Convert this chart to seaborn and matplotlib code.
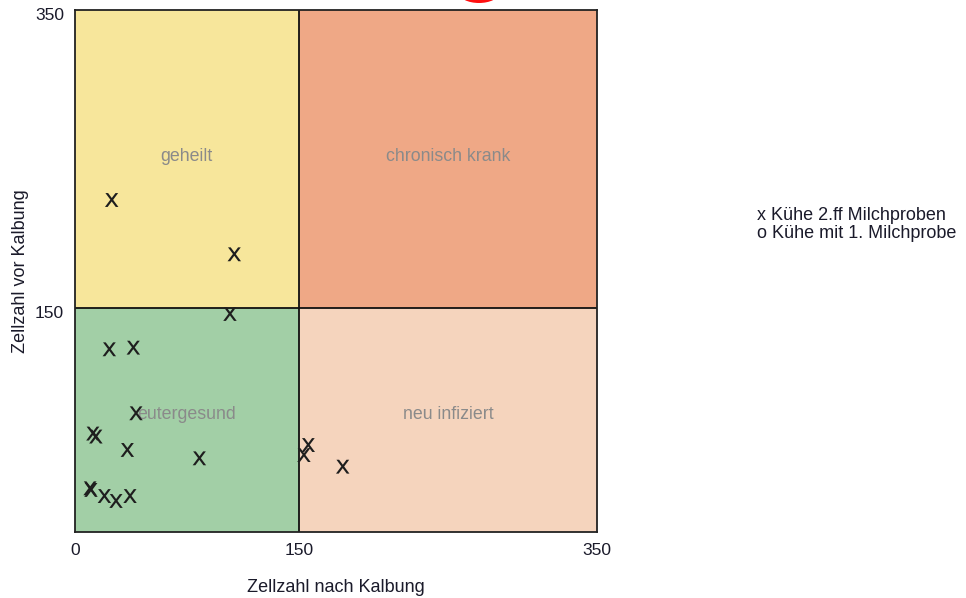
import matplotlib
matplotlib.use("Agg")
import matplotlib.pyplot as plt
import matplotlib.patches as mpatches
import matplotlib.transforms as mtransforms
import seaborn as sns
import pandas as pd

# data: cell counts after calving (x) and before calving (y)
zellzahl_nach = [103.9, 23.0, 39.1, 40.9, 12.0, 14.0, 35.1, 83.4, 10.1, 10.7, 19.7, 27.5, 36.9,
                 24.6, 106.8, 156.4, 153.5, 179.5]
zellzahl_vor = [146.2, 122.5, 123.6, 79.6, 66.0, 64.0, 55.0, 49.4, 29.3, 28.2, 24.1, 20.8, 24.1,
                222.6, 186.2, 58.3, 51.6, 43.8]
x_tick_values = [0, 150, 350]
y_tick_values = [150, 350]
quadrant_names = ["geheilt", "chronisch krank", "eutergesund", "neu infiziert"]
quadrant_colors = ["#F7E69B", "#EFA886", "#A2CFA6", "#F5D4BD"]
legend_lines = ["x Kühe 2.ff Milchproben", "o Kühe mit 1. Milchprobe"]

df = pd.DataFrame({"nach": zellzahl_nach, "vor": zellzahl_vor})

sns.set_theme(style="white")
plt.rcParams["font.family"] = ["Liberation Sans", "DejaVu Sans"]

fig = plt.figure(figsize=(9.66, 5.98), dpi=100)
ax = fig.add_axes([75 / 966, (598 - 532) / 598, 522 / 966, 522 / 598])

lim = 350
split = 150
# quadrants
ax.add_patch(mpatches.Rectangle((0, split), split, lim - split, facecolor=quadrant_colors[0], edgecolor="none", zorder=0))
ax.add_patch(mpatches.Rectangle((split, split), lim - split, lim - split, facecolor=quadrant_colors[1], edgecolor="none", zorder=0))
ax.add_patch(mpatches.Rectangle((0, 0), split, split, facecolor=quadrant_colors[2], edgecolor="none", zorder=0))
ax.add_patch(mpatches.Rectangle((split, 0), lim - split, split, facecolor=quadrant_colors[3], edgecolor="none", zorder=0))
ax.axvline(split, color="#111111", lw=1.3, zorder=1)
ax.axhline(split, color="#111111", lw=1.3, zorder=1)

label_pos = [(75, 252), (250, 252), (75, 79), (250, 79)]
for name, (px, py) in zip(quadrant_names, label_pos):
    ax.text(px, py, name, ha="center", va="center", color="#8a8a8a", fontsize=12.8, zorder=2)

sns.scatterplot(data=df, x="nach", y="vor", marker=r"$\mathsf{x}$", s=100, color="#1e1e1e",
                edgecolor="none", linewidth=0, ax=ax, zorder=3, legend=False)

ax.set_xlim(0, lim)
ax.set_ylim(0, lim)
ax.set_xticks(x_tick_values)
ax.set_yticks(y_tick_values)
ax.set_xticklabels([str(v) for v in x_tick_values], fontsize=12.5, color="#1a1a2a")
ax.set_yticklabels([str(v) for v in y_tick_values], fontsize=12.5, color="#1a1a2a")
ax.tick_params(axis="both", length=0, pad=8)
# nudge y tick labels slightly down like the reference
offset = mtransforms.ScaledTranslation(0, -4 / 100, fig.dpi_scale_trans)
for lab in ax.get_yticklabels():
    lab.set_transform(lab.get_transform() + offset)

ax.set_xlabel("Zellzahl nach Kalbung", fontsize=13, color="#1a1a2a")
ax.set_ylabel("Zellzahl vor Kalbung", fontsize=13, color="#1a1a2a")
ax.xaxis.set_label_coords(0.5, -(587 - 532) / 522)
ax.yaxis.set_label_coords(-(75 - 21) / 522, 0.5)
ax.xaxis.label.set_va("center")
ax.yaxis.label.set_va("center")
for sp in ax.spines.values():
    sp.set_visible(True)
    sp.set_color("#222222")
    sp.set_linewidth(1.3)

fig.text(757 / 966, 1 - 215 / 598, legend_lines[0], fontsize=13, ha="left", va="center", color="#1a1a2a")
fig.text(757 / 966, 1 - 234 / 598, legend_lines[1], fontsize=13, ha="left", va="center", color="#1a1a2a")

# small red mark at top edge
fig.patches.append(mpatches.Ellipse((479 / 966, 1 + 7 / 598), 40 / 966, 20 / 598,
                                    transform=fig.transFigure, facecolor="#ff1010", edgecolor="none"))

fig.savefig("out.png", dpi=100)
